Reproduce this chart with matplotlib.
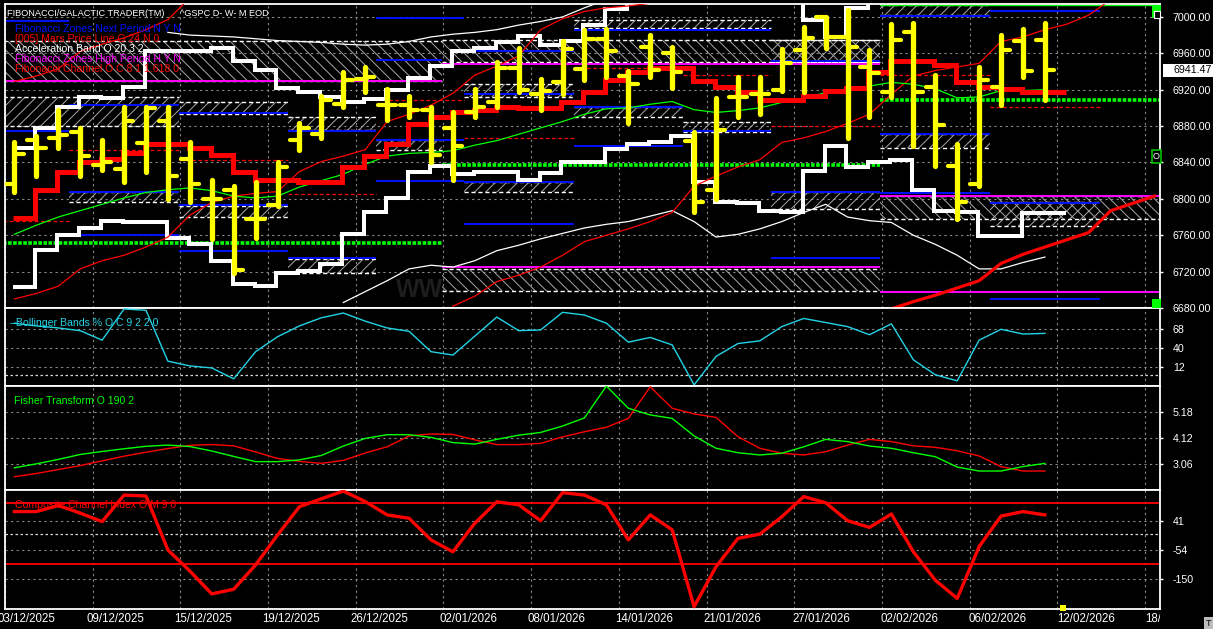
import numpy as np
import matplotlib
matplotlib.use("Agg")
import matplotlib.pyplot as plt
from matplotlib.patches import Rectangle
from matplotlib import transforms

plt.rcParams['font.family'] = ['Liberation Sans', 'DejaVu Sans']
plt.rcParams['hatch.linewidth'] = 0.7

W, H, DPI = 1213, 629, 100

# ---------------- data ----------------
date_labels = ["03/12/2025", "09/12/2025", "15/12/2025", "19/12/2025", "26/12/2025",
               "02/01/2026", "08/01/2026", "14/01/2026", "21/01/2026", "27/01/2026",
               "02/02/2026", "06/02/2026", "12/02/2026", "18/02/2026"]

opens = [6816, 6865, 6867, 6874, 6837, 6833, 6861, 6886, 6844, 6800, 6810, 6778, 6793, 6865, 6871, 6904,
         6932, 6903, 6903, 6898, 6878, 6895, 6907, 6944, 6915, 6928, 6943, 6976, 6935, 6967, 6960, 6864,
         6810, 6912, 6915, 6920, 6964, 7000, 6978, 6945, 6917, 6983, 6923, 6836, 6816, 6923, 6973, 6975]
highs = [6863, 6869, 6898, 6878, 6865, 6901, 6901, 6901, 6862, 6821, 6814, 6818, 6841, 6883, 6913, 6939,
         6945, 6921, 6913, 6901, 6895, 6921, 6950, 6966, 6932, 6974, 6986, 6987, 6941, 6980, 6967, 6873,
         6911, 6934, 6934, 6965, 6989, 7000, 7008, 6964, 6992, 6993, 6936, 6860, 6945, 6980, 6987, 6993]
lows = [6808, 6825, 6856, 6825, 6832, 6819, 6830, 6800, 6797, 6756, 6719, 6757, 6792, 6854, 6867, 6901,
        6918, 6887, 6890, 6841, 6821, 6890, 6901, 6918, 6898, 6915, 6931, 6934, 6883, 6934, 6922, 6786,
        6800, 6890, 6893, 6919, 6918, 6966, 6867, 6890, 6912, 6858, 6836, 6778, 6814, 6903, 6934, 6909]
closes = [6849, 6856, 6870, 6847, 6840, 6886, 6900, 6825, 6816, 6800, 6722, 6778, 6835, 6878, 6909, 6931,
          6934, 6903, 6898, 6848, 6858, 6901, 6944, 6920, 6919, 6965, 6976, 6962, 6926, 6942, 6939, 6796,
          6876, 6912, 6915, 6949, 6977, 6978, 6967, 6938, 6975, 6917, 6881, 6797, 6931, 6964, 6941, 6941.47]
last_price = 6941.47

mars_line = [6779, 6810, 6830, 6840, 6844, 6850, 6860, 6860, 6856, 6848, 6830, 6821, 6821, 6819, 6819, 6835,
             6847, 6860, 6882, 6890, 6895, 6898, 6901, 6900, 6900, 6906, 6917, 6931, 6939, 6944, 6944, 6930,
             6923, 6917, 6909, 6909, 6913, 6919, 6922, 6939, 6951, 6952, 6947, 6929, 6923, 6921, 6918, 6918]
ma_green = [6761, 6771, 6780, 6787, 6794, 6801, 6807, 6810, 6812, 6809, 6803, 6801, 6803, 6813, 6820, 6827,
            6838, 6847, 6850, 6851, 6853, 6859, 6864, 6871, 6878, 6885, 6893, 6899, 6900, 6904, 6907, 6898,
            6895, 6897, 6900, 6906, 6910, 6917, 6921, 6924, 6928, 6926, 6921, 6911, 6912, 6919, 6919, 6920]
accel_upper = [6856, 6878, 6901, 6912, 6911, 6923, 6962, 6962, 6962, 6966, 6952, 6942, 6922, 6917, 6912, 6907,
               6910, 6920, 6933, 6946, 6962, 6966, 6972, 6979, 6969, 6974, 6991, 7009, 7030, 7030, 7030, 7030,
               7030, 7030, 7030, 7030, 6997, 6978, 7010, 7030, 7030, 7030, 7030, 7030, 7030, 7030, 7030, 7030]
accel_lower = [6703, 6744, 6760, 6768, 6776, 6774, 6774, 6757, 6750, 6732, 6706, 6704, 6718, 6721, 6728, 6761,
               6786, 6801, 6830, 6836, 6827, 6829, 6830, 6821, 6828, 6840, 6841, 6855, 6860, 6862, 6869, 6819,
               6797, 6795, 6787, 6785, 6831, 6858, 6835, 6841, 6843, 6810, 6787, 6785, 6759, 6759, 6784, 6784]
thin_upper_start = 7
thin_upper = [6983, 6980, 6979, 6978, 6976, 6974, 6973, 6972, 6970, 6969, 6970, 6973, 6978, 6981, 6983, 6986,
              6991, 6995, 7000, 7010, 7019]
thin_lower_start = 15
thin_lower = [6686, 6698, 6710, 6723, 6727, 6725, 6732, 6743, 6749, 6756, 6762, 6768, 6772, 6775, 6781, 6787,
              6775, 6758, 6761, 6767, 6775, 6785, 6794, 6780, 6776, 6774, 6760, 6750, 6738, 6723, 6723, 6730, 6736]

chan0_start = 0
chan0 = [6929, 6935, 6943, 6962, 6970, 6977, 6986, 6997, 7021]
chan1_start = 0
chan1 = [6690, 6696, 6704, 6723, 6732, 6738, 6747, 6758, 6782, 6796, 6803, 6806, 6808, 6830, 6841, 6847,
         6854, 6885, 6893, 6903, 6916, 6936, 6946, 6957, 6986, 6998, 7006, 7010, 7012, 7015, 7021]
chan2_start = 20
chan2 = [6682, 6693, 6709, 6716, 6725, 6738, 6753, 6760, 6767, 6775, 6785, 6814, 6825, 6835, 6843, 6862,
         6867, 6874, 6883, 6893, 6915, 6935, 6941, 6945, 6949, 6973, 6978, 6986, 6992, 7002, 7019]
chan3_start = 40
chan3 = [6679, 6687, 6694, 6702, 6710, 6729, 6739, 6747, 6755, 6763, 6787, 6795, 6803]

# Fibonacci zones (bar range, price range, hatch direction)
zone_x0 = [-0.5, 19.5, 34.5, -0.5, 2.5, 7.5, 7.5, 12.5, 12.5, 16.5, 20.5, 20.5, 19.5, 25.5, 25.5, 30.5, 34.5, 39.5, 39.5, 39.5, 44.5]
zone_x1 = [19.5, 39.5, 39.5, 7.5, 7.5, 12.5, 12.5, 16.5, 16.5, 19.5, 25.5, 25.5, 39.5, 34.5, 30.5, 34.5, 39.5, 44.5, 44.5, 52.5, 49.5]
zone_lo = [6930, 6950, 6950, 6880, 6796, 6893, 6780, 6876, 6719, 6854, 6912, 6807, 6699, 6988, 6890, 6874, 6789, 7002, 6856, 6778, 6770]
zone_hi = [6973, 6975, 6975, 6912, 6807, 6906, 6792, 6890, 6734, 6865, 6926, 6819, 6723, 6997, 6901, 6885, 6807, 7013, 6871, 6803, 6796]
zone_dir = ['nw', 'nw', 'ne', 'ne', 'ne', 'ne', 'ne', 'ne', 'ne', 'ne', 'ne', 'ne', 'nw', 'ne', 'ne', 'ne', 'ne', 'ne', 'ne', 'nw', 'ne']

blue_x0 = [-0.5, -0.5, 2.5, 2.5, 2.5, 7.5, 7.5, 7.5, 12.5, 12.5, 16.5, 16.5, 16.5, 16.5, 20.5, 20.5, 20.5, 20.5,
           25.5, 25.5, 25.5, 30.5, 34.5, 34.5, 34.5, 39.5, 39.5, 39.5, 44.5, 44.5, 44.5]
blue_x1 = [2.5, 2.5, 7.5, 7.5, 7.5, 12.5, 12.5, 12.5, 16.5, 16.5, 20.5, 19.5, 20.5, 20.5, 25.5, 25.5, 25.5, 25.5,
           34.5, 30.5, 30.5, 34.5, 39.5, 39.5, 39.5, 44.5, 44.5, 44.5, 49.5, 49.5, 49.5]
blue_y = [6996, 6875, 6903, 6807, 6760, 6894, 6793, 6743, 6875, 6735, 6999, 6953, 6865, 6820, 6962, 6915, 6819, 6772,
          6986, 6901, 6858, 6875, 6951, 6807, 6735, 7001, 6871, 6806, 7007, 6795, 6690]

mag_x0 = [-0.5, 19.5, 19.5, 39.5, 39.5]
mag_x1 = [19.5, 39.5, 39.5, 52.5, 52.5]
mag_y = [6930, 6948.5, 6725, 6803, 6697.5]

gd_x0 = [-0.5, 19.5, 39.5]
gd_x1 = [19.5, 39.5, 52.5]
gd_y = [6751, 6837, 6909]

rd_x0 = [-0.5, 2.5, 7.5, 12.5, 16.5, 20.5, 25.5, 30.5, 34.5, 39.5, 44.5]
rd_x1 = [2.5, 7.5, 12.5, 16.5, 20.5, 25.5, 30.5, 34.5, 39.5, 44.5, 49.5]
rd_y = [6776, 6854, 6843, 6805, 6909, 6867, 6944, 6936, 6880, 6936, 6901]

price_ticks = [7000, 6960, 6920, 6880, 6840, 6800, 6760, 6720, 6680]

bollinger = [77, 73, 70, 66, 52, 98, 96, 21, 14, 11, -5, 35, 57, 73, 85, 92, 80, 70, 65, 35, 30, 58, 86, 66,
             67, 93, 89, 77, 49, 56, 45, -14, 28, 47, 51, 72, 84, 78, 72, 60, 76, 23, 1, -8, 52, 68, 61, 62]
boll_ticks = [68, 40, 12]

fisher_green = [2.91, 3.07, 3.25, 3.45, 3.57, 3.68, 3.78, 3.83, 3.77, 3.59, 3.37, 3.16, 3.16, 3.23, 3.41, 3.79,
                4.10, 4.25, 4.25, 4.14, 3.93, 3.87, 4.06, 4.23, 4.34, 4.60, 4.93, 6.22, 5.32, 5.05, 4.91, 4.20,
                3.70, 3.52, 3.43, 3.50, 3.76, 4.06, 3.97, 3.79, 3.70, 3.52, 3.36, 2.94, 2.78, 2.78, 2.96, 3.09]
fisher_red = [2.55, 2.68, 2.84, 3.00, 3.19, 3.38, 3.54, 3.69, 3.82, 3.85, 3.80, 3.55, 3.29, 3.17, 3.09, 3.21,
              3.51, 3.76, 4.20, 4.28, 4.26, 4.04, 3.85, 3.85, 3.90, 4.16, 4.37, 4.55, 4.91, 6.19, 5.32, 5.09,
              4.95, 4.17, 3.70, 3.50, 3.43, 3.56, 3.83, 4.06, 3.97, 3.80, 3.74, 3.60, 3.39, 2.96, 2.78, 2.78]
fisher_ticks = [5.18, 4.12, 3.06]

cci = [72, 72, 92, 67, 39, 126, 123, -54, -123, -198, -183, -103, -5, 88, 114, 139, 105, 61, 50, -21, -60, 34,
       104, 94, 42, 134, 126, 94, -21, 61, 12, -240, -109, -16, -2, 55, 121, 101, 42, 20, 64, -60, -153, -213,
       -43, 57, 72, 61]
cci_ticks = [41, -54, -150]
cci_levels = [100, -100]

# ---------------- figure ----------------
fig = plt.figure(figsize=(W / DPI, H / DPI), dpi=DPI, facecolor='black')
XLIM = (-0.104, 52.25)
bars = np.arange(len(closes))
grid_x = np.arange(len(date_labels)) * 4 - 0.43
GRID = dict(color='#8a8a8a', linestyle=(0, (2, 3)), linewidth=0.8)


def panel(top, bottom, ylim, yticks, fmt):
    ax = fig.add_axes([5 / W, 1 - bottom / H, 1155 / W, (bottom - top) / H])
    ax.set_facecolor('black')
    for s in ax.spines.values():
        s.set_color('white')
        s.set_linewidth(1.3)
    ax.set_xlim(XLIM)
    ax.set_ylim(ylim)
    ax.set_xticks(grid_x)
    ax.tick_params(axis='x', length=0, labelbottom=False)
    ax.yaxis.tick_right()
    ax.set_yticks(yticks)
    ax.set_yticklabels([fmt(v) for v in yticks])
    ax.tick_params(axis='y', colors='white', labelcolor='white', labelsize=7.7,
                   length=2.2, width=1, pad=7)
    ax.grid(True, **GRID)
    ax.set_axisbelow(True)
    return ax


# ---- main price panel ----
ax = panel(4, 308, (6681.1, 7014.2), price_ticks, lambda v: f'{v:.2f}')

# watermark
ax.text(17.4, 6700, 'WW', color='#1d1d1d', fontsize=18, fontweight='bold',
        ha='left', va='center', zorder=0.6)

hatch_map = {'ne': '///', 'nw': '\\\\\\'}
for x0, x1, lo, hi, d in zip(zone_x0, zone_x1, zone_lo, zone_hi, zone_dir):
    ax.add_patch(Rectangle((x0, lo), x1 - x0, hi - lo, facecolor='none', edgecolor='#a8a8a8',
                           hatch=hatch_map[d], linewidth=0, zorder=1))
    ax.hlines([lo, hi], x0, x1, colors='white', linestyles=(0, (3, 2)), linewidth=1.0, zorder=1.5)

ax.hlines(blue_y, blue_x0, blue_x1, colors='#0010ff', linewidth=1.4, zorder=2)
ax.hlines(mag_y, mag_x0, mag_x1, colors='#ff00ff', linewidth=1.4, zorder=2)
ax.hlines(rd_y, rd_x0, rd_x1, colors='#ff0000', linestyles=(0, (3, 2)), linewidth=0.9, zorder=2)
ax.hlines(gd_y, gd_x0, gd_x1, colors='#00ff00', linestyles=(0, (1.0, 0.4)), linewidth=2.6, zorder=2.2)
ax.hlines([7013], [39.5], [52.5], colors='#00ff00', linewidth=1.0, zorder=2)

edges = np.arange(len(mars_line) + 1) - 0.05
ax.stairs(accel_upper, edges, baseline=None, color='white', linewidth=2.9, zorder=3)
ax.stairs(accel_lower, edges, baseline=None, color='white', linewidth=2.9, zorder=3)
ax.plot(np.arange(len(thin_upper)) + thin_upper_start, thin_upper, color='white', lw=0.9, zorder=3.5)
ax.plot(np.arange(len(thin_lower)) + thin_lower_start, thin_lower, color='white', lw=0.9, zorder=3.5)

for start, vals in [(chan0_start, chan0), (chan1_start, chan1), (chan2_start, chan2)]:
    ax.plot(np.arange(len(vals)) + start, vals, color='#ff0000', lw=0.9, zorder=4)
ax.plot(np.arange(len(chan3)) + chan3_start, chan3, color='#ff0000', lw=2.3, zorder=4)

ax.plot(bars, ma_green, color='#00ff00', lw=0.9, zorder=4.2)
ax.stairs(mars_line, edges, baseline=None, color='#ff0000', linewidth=3.6, zorder=5)

yl = '#ffff00'
ax.vlines(bars, lows, highs, colors=yl, linewidth=3.8, capstyle='round', zorder=6)
ax.hlines(opens, bars - 0.42, bars, colors=yl, linewidth=3.0, capstyle='round', zorder=6)
ax.hlines(closes, bars, bars + 0.42, colors=yl, linewidth=3.0, capstyle='round', zorder=6)

# last-price box
bt = transforms.blended_transform_factory(ax.transAxes, ax.transData)
ax.add_patch(Rectangle((1158 / 1155, last_price - 7.3), 50 / 1155, 14.6, transform=bt,
                       facecolor='white', edgecolor='none', clip_on=False, zorder=10))
ax.text(1168 / 1155, last_price, f'{last_price:.2f}', transform=bt, color='black', fontsize=7.7,
        ha='left', va='center', clip_on=False, zorder=11)

# ---- Bollinger %B ----
ax2 = panel(308, 386, (-15.6, 99.4), boll_ticks, lambda v: f'{v:g}')
ax2.axhline(0, color='#d8d8d8', linestyle=(0, (2, 2)), linewidth=0.9, zorder=1)
ax2.plot(bars, bollinger, color='#22d4e6', lw=1.0, zorder=3)

# ---- Fisher transform ----
ax3 = panel(386, 490, (2.012, 6.22), fisher_ticks, lambda v: f'{v:g}')
ax3.plot(bars, fisher_red, color='#ff0000', lw=1.0, zorder=3)
ax3.plot(bars, fisher_green, color='#00ff00', lw=1.0, zorder=3)

# ---- CCI ----
ax4 = panel(490, 609, (-247.6, 142.7), cci_ticks, lambda v: f'{v:g}')
ax4.axhline(0, color='#d8d8d8', linestyle=(0, (2, 2)), linewidth=0.9, zorder=1)
for lv in cci_levels:
    ax4.axhline(lv, color='#ff0000', linewidth=1.3, zorder=2)
ax4.plot(bars, cci, color='#ff0000', lw=2.4, zorder=3)

# ---- date strip ----
axd = fig.add_axes([0, 0, 1160 / W, 20 / H])
axd.set_xlim((0 - 7.3) / 22.06, XLIM[1])
axd.set_ylim(0, 1)
axd.axis('off')
for gx, lab in zip(grid_x, date_labels):
    axd.text(gx, 0.5, lab, color='white', fontsize=8.3, ha='left', va='center', clip_on=True)

# ---- texts ----
def ftext(x, y, s, **kw):
    fig.text(x / W, 1 - y / H, s, va='center', ha='left', **kw)

ftext(7, 13, 'FIBONACCI/GALACTIC TRADER(TM)', color='white', fontsize=6.6)
ftext(180, 13, '^GSPC D- W- M EOD', color='white', fontsize=6.6)
ftext(15, 29, 'Fibonacci Zones Next Period N Y N', color='#0010ff', fontsize=7.6)
ftext(15, 39, '[005] Mars Price Line G 24 N 0', color='#ff0000', fontsize=7.6)
ftext(15, 49, 'Acceleration Band O 20 3 2', color='white', fontsize=7.6)
ftext(15, 59, 'Fibonacci Zones High Period H Y N', color='#ff00ff', fontsize=7.6)
ftext(15, 69, 'Fibonacci Channel O C 8 1 1.618 0', color='#ff0000', fontsize=7.6)
ftext(10, 323, '\u2013Bollinger Bands % O C 9 2 2 0', color='#22d4e6', fontsize=7.6)
ftext(14, 401, 'Fisher Transform O 190 2', color='#00ff00', fontsize=7.6)
ftext(15, 505, 'Composite Channel Index O M 9 0', color='#ff0000', fontsize=7.6)

# ---- small decorations ----
def frect(x0, y0, x1, y1, **kw):
    fig.add_artist(Rectangle((x0 / W, 1 - y1 / H), (x1 - x0) / W, (y1 - y0) / H,
                             transform=fig.transFigure, **kw))

frect(1152, 5, 1161, 18, facecolor='#00ff00', edgecolor='none')
frect(1153.5, 11, 1159.5, 18, facecolor='black', edgecolor='white', linewidth=0.8)
frect(1152, 150, 1161, 163, facecolor='black', edgecolor='#00c000', linewidth=1.2)
fig.text(1156.5 / W, 1 - 156.5 / H, 'O', color='white', fontsize=6.5, ha='center', va='center')
frect(1152, 299, 1161, 308, facecolor='#00ff00', edgecolor='none')
frect(1060, 605, 1066, 611, facecolor='#ffff00', edgecolor='none')
frect(1204, 617, 1213, 629, facecolor='#bdbdbd', edgecolor='none')
fig.text(1208.5 / W, 1 - 623 / H, 'T', color='black', fontsize=6.5, ha='center', va='center')

fig.savefig('out.png', dpi=DPI, facecolor='black')
